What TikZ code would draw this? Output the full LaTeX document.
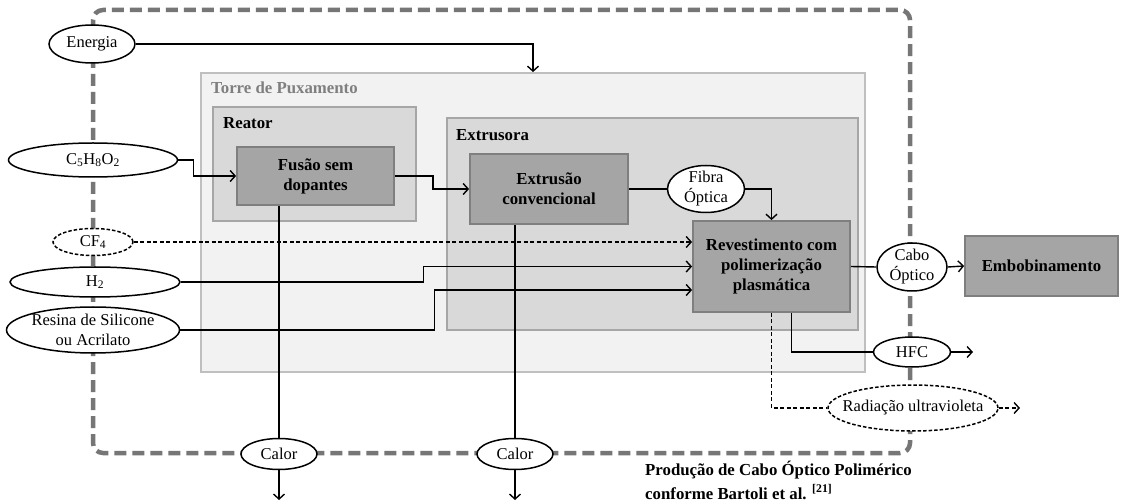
\documentclass[tikz,border=0pt]{standalone}
\usepackage{fontspec}
\setmainfont{Liberation Serif}
\usetikzlibrary{arrows.meta,shapes.geometric}

\definecolor{outerfill}{HTML}{F2F2F2}
\definecolor{outerline}{HTML}{BFBFBF}
\definecolor{outertext}{HTML}{7F7F7F}
\definecolor{midfill}{HTML}{D9D9D9}
\definecolor{midline}{HTML}{A6A6A6}
\definecolor{procfill}{HTML}{A5A5A5}
\definecolor{procline}{HTML}{7F7F7F}
\definecolor{boundcol}{HTML}{767676}

\tikzset{
  txt/.style={font=\fontsize{16.5}{20}\selectfont},
  btxt/.style={font=\fontsize{16.8}{20}\selectfont\bfseries},
  boundary/.style={draw=boundcol, line width=4.5pt, dash pattern=on 12pt off 6pt, rounded corners=10pt},
  zone/.style={rectangle, line width=1.8pt, inner sep=0pt},
  zonelabel/.style={btxt, anchor=west, inner sep=0pt},
  proc/.style={rectangle, btxt, draw=procline, line width=1.8pt, fill=procfill,
    align=center, inner sep=0pt},
  flow/.style={ellipse, txt, draw, line width=1.5pt, fill=white, inner sep=-15pt, align=center},
  dflow/.style={flow, dash pattern=on 3.5pt off 2pt},
  plain/.style={line width=1.4pt},
  conn/.style={plain, -{Straight Barb[length=5pt,width=11pt]}},
  dplain/.style={plain, dash pattern=on 4pt off 2.5pt},
  dconn/.style={dplain, -{Straight Barb[length=5pt,width=11pt]}},
}

\begin{document}
\begin{tikzpicture}[x=1pt,y=-1pt]
\useasboundingbox[fill=white] (0,0) rectangle (1121,502);

% system boundary
\draw[boundary] (93,10) rectangle (910,453);

% nested equipment zones
\node[zone, fill=outerfill, draw=outerline, minimum width=664, minimum height=299] (torre) at (533,222.5) {};
\node[zonelabel, text=outertext] (torrelbl) at (211,88) {Torre de Puxamento};
\node[zone, fill=midfill, draw=midline, minimum width=203, minimum height=114] (reator) at (314.5,164) {};
\node[zonelabel] (reatorlbl) at (223,123) {Reator};
\node[zone, fill=midfill, draw=midline, minimum width=411, minimum height=212] (extrusora) at (652.5,224) {};
\node[zonelabel] (extrusoralbl) at (456,135) {Extrusora};

% process steps
\node[proc, minimum width=157, minimum height=58] (fusao) at (315.5,176) {Fusão sem\\dopantes};
\node[proc, minimum width=158, minimum height=70] (extrusao) at (549,189) {Extrusão\\convencional};
\node[proc, minimum width=157, minimum height=91] (revest) at (771.5,266.5) {Revestimento com\\polimerização\\plasmática};
\node[proc, minimum width=153, minimum height=60] (embob) at (1041.5,266) {Embobinamento};

% material and energy flows
\node[flow, minimum width=86, minimum height=38] (energia) at (92,44) {Energia};
\node[flow, minimum width=169, minimum height=34] (c5) at (93,160) {C\textsubscript{5}H\textsubscript{8}O\textsubscript{2}};
\node[dflow, minimum width=80, minimum height=27] (cf4) at (93,242) {CF\textsubscript{4}};
\node[flow, minimum width=170, minimum height=30] (h2) at (95,282) {H\textsubscript{2}};
\node[flow, minimum width=173, minimum height=46] (resina) at (93,330) {Resina de Silicone\\ou Acrilato};
\node[flow, minimum width=77, minimum height=47] (fibra) at (706,189) {Fibra\\Óptica};
\node[flow, minimum width=70, minimum height=48] (cabo) at (912,267) {Cabo\\Óptico};
\node[flow, minimum width=77, minimum height=30] (hfc) at (912,352) {HFC};
\node[dflow, minimum width=170, minimum height=46] (radiacao) at (913,408) {Radiação ultravioleta};
\node[flow, minimum width=76, minimum height=31] (calor1) at (279,454) {Calor};
\node[flow, minimum width=76, minimum height=31] (calor2) at (515,454) {Calor};

% free ends of outgoing flows
\coordinate (heat1) at (279,500);
\coordinate (heat2) at (515,500);
\coordinate (hfcout) at (973,352);
\coordinate (uvout) at (1020,408);

% connectors
\draw[conn] (energia.east) -| (torre.north);
\draw[conn] (c5.east) -- ++(15,0) |- (fusao.west);
\draw[conn] (fusao.east) -- ++(38,0) |- (extrusao.west);
\draw[plain] (fusao.south -| calor1.north) -- (calor1.north);
\draw[conn] (calor1.south) -- (heat1);
\draw[plain] (extrusao.south -| calor2.north) -- (calor2.north);
\draw[conn] (calor2.south) -- (heat2);
\draw[plain] (extrusao.east) -- (fibra.west);
\draw[conn] (fibra.east) -| (revest.north);
\draw[dconn] (cf4.east) -- (cf4.east -| revest.west);
\draw[conn] (h2.east) -- ++(243,0) |- (revest.west);
\draw[conn] (resina.east) -- ++(254,0) |- ([yshift=-23.5pt]revest.west);
\draw[dplain] (revest.south) |- (radiacao.west);
\draw[plain] ([xshift=20pt]revest.south) |- (hfc.west);
\draw[conn] (hfc.east) -- (hfcout);
\draw[dconn] (radiacao.east) -- (uvout);
\draw[plain] (revest.east) -- (cabo.west);
\draw[conn] (cabo.east) -- (embob.west);

% caption
\node[btxt, anchor=west, inner sep=0pt] (cap1) at (645,470) {Produção de Cabo Óptico Polimérico};
\node[btxt, anchor=west, inner sep=0pt] (cap2) at (645,492) {conforme Bartoli et al. \textsuperscript{[21]}};
\end{tikzpicture}
\end{document}
